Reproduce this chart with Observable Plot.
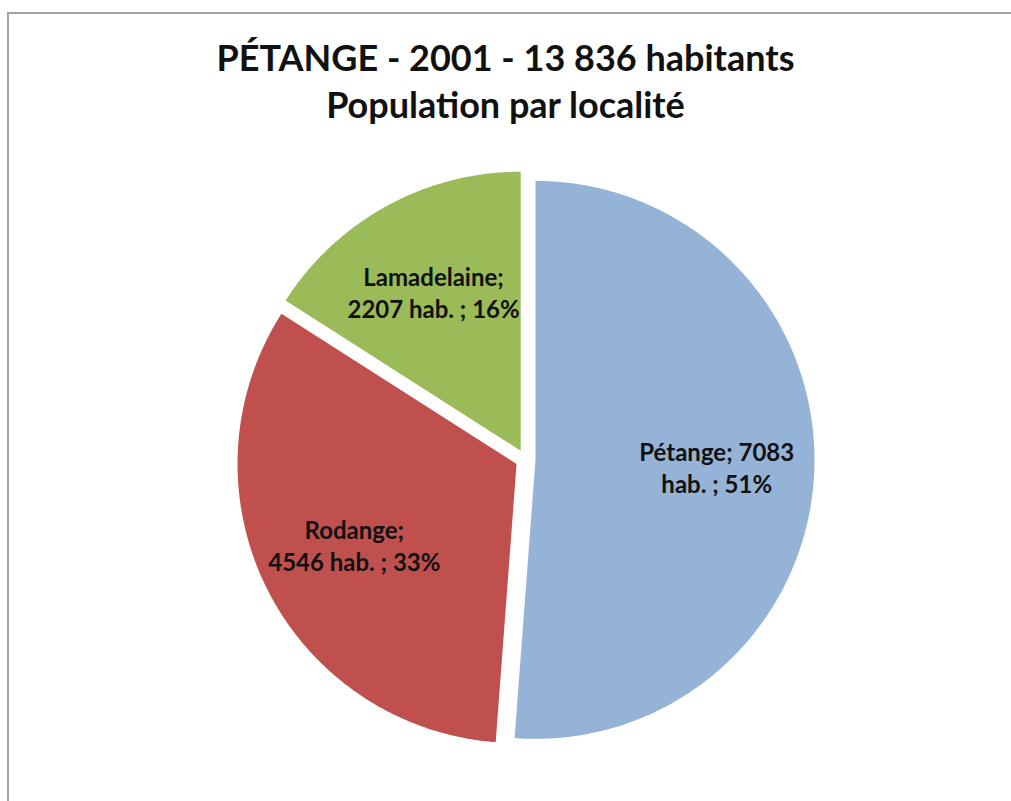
<!DOCTYPE html>
<html>
<head>
<meta charset="utf-8">
<script src="https://cdn.jsdelivr.net/npm/d3@7"></script>
<script src="https://cdn.jsdelivr.net/npm/@observablehq/plot@0.6"></script>
<style>
  html, body { margin: 0; padding: 0; background: #fff; }
  body { width: 1011px; height: 801px; overflow: hidden; position: relative; }
  #frame { position: absolute; left: 7px; top: 12px; width: 1100px; height: 900px;
           border-top: 2px solid #a3a3a3; border-left: 2px solid #a3a3a3; z-index: 5; pointer-events: none; }
  #title { height: 150px; box-sizing: border-box; padding-top: 34px; text-align: center;
           font-family: Lato, "Open Sans", sans-serif; font-weight: bold; font-size: 36px;
           line-height: 47px; color: #111; }
</style>
</head>
<body>
<div id="frame"></div>
<div id="title">PÉTANGE - 2001 - 13 836 habitants<br>Population par localité</div>
<div id="chart"></div>
<script>
// ---- data ----
const names = ["Pétange", "Rodange", "Lamadelaine"];
const values = [7083, 4546, 2207];
const percents = [51, 33, 16];
const labelLine1 = ["Pétange; 7083", "Rodange;", "Lamadelaine;"];
const labelLine2 = ["hab. ; 51%", "4546 hab. ; 33%", "2207 hab. ; 16%"];
const colors = ["#95B3D7", "#C0504D", "#9BBB59"];

// ---- geometry (unit circle, y up) ----
const explode = 10 / 279;
const labelRadius = 0.65;
const arcs = d3.pie().sort(null).value(d => d)(values);

const polyPoints = [];
const labels = [];
arcs.forEach((a, i) => {
  const m = (a.startAngle + a.endAngle) / 2;
  const ox = Math.sin(m) * explode, oy = Math.cos(m) * explode;
  polyPoints.push({name: names[i], x: ox, y: oy});
  const n = Math.max(2, Math.ceil((a.endAngle - a.startAngle) / (Math.PI / 360)));
  for (let k = 0; k <= n; ++k) {
    const t = a.startAngle + (a.endAngle - a.startAngle) * k / n;
    polyPoints.push({name: names[i], x: ox + Math.sin(t), y: oy + Math.cos(t)});
  }
  polyPoints.push({name: names[i], x: ox, y: oy});
  labels.push({
    name: names[i],
    x: ox + Math.sin(m) * labelRadius,
    y: oy + Math.cos(m) * labelRadius,
    text: labelLine1[i] + "\n" + labelLine2[i]
  });
});

const cx = 525, cy = 309, R = 279;
const chart = Plot.plot({
  width: 1011,
  height: 651,
  margin: 0,
  style: {background: "transparent", overflow: "visible"},
  x: {domain: [-1, 1], range: [cx - R, cx + R], axis: null},
  y: {domain: [-1, 1], range: [cy + R, cy - R], axis: null},
  color: {domain: names, range: colors},
  marks: [
    Plot.line(polyPoints, {x: "x", y: "y", z: "name", fill: "name", stroke: "none"}),
    Plot.text(labels, {
      x: "x", y: "y", text: "text",
      fontFamily: "Lato, 'Open Sans', sans-serif",
      fontWeight: "bold",
      fontSize: 24,
      lineHeight: 1.33,
      fill: "#111"
    })
  ]
});
document.getElementById("chart").appendChild(chart);
</script>
</body>
</html>
